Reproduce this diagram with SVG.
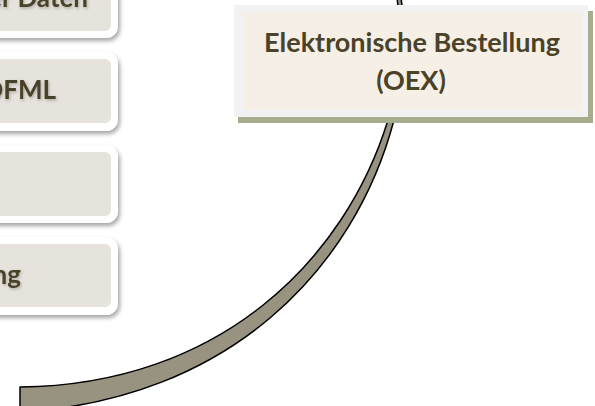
<svg xmlns="http://www.w3.org/2000/svg" width="595" height="406" viewBox="0 0 595 406">
<defs>
<filter id="sh" x="-20%" y="-20%" width="140%" height="150%">
<feDropShadow dx="2" dy="3" stdDeviation="2" flood-color="#000" flood-opacity="0.35"/>
</filter>
<filter id="tsh" x="-10%" y="-30%" width="120%" height="160%">
<feDropShadow dx="1" dy="1.5" stdDeviation="1.5" flood-color="#000" flood-opacity="0.25"/>
</filter>
</defs>
<style>
.outer{fill:#ffffff;filter:url(#sh)}
.inner{fill:#e6e2dc}
.lbl{font-family:Lato,"Open Sans",sans-serif;font-weight:bold;fill:#4a4329}
.side{font-size:26px;text-anchor:end;filter:url(#tsh)}
.main{font-size:27px;text-anchor:middle}
.band{fill:#989280;stroke:#000;stroke-width:1.5;stroke-linejoin:round}
</style>
<rect width="595" height="406" fill="#ffffff"/>
<g id="connectors">
<path class="band" d="M20,387 C220,385 345,260 388,120 C398.75,85 402,30 397,-2 L401,-2 C406,30 405,85 394,120 C355,268 230,400 20,412 Z"/>
</g>
<g id="node1">
<rect class="outer" x="-20" y="-40" width="138" height="78" rx="12"/>
<rect class="inner" x="-20" y="-33" width="131" height="64" rx="6"/>
<text class="lbl side" x="88" y="7">er Daten</text>
</g>
<g id="node2">
<rect class="outer" x="-20" y="52" width="138" height="79" rx="12"/>
<rect class="inner" x="-20" y="59" width="131" height="64" rx="6"/>
<text class="lbl side" x="56" y="99">OFML</text>
</g>
<g id="node3">
<rect class="outer" x="-20" y="145" width="138" height="78" rx="12"/>
<rect class="inner" x="-20" y="152" width="131" height="64" rx="6"/>
</g>
<g id="node4">
<rect class="outer" x="-20" y="237" width="138" height="78" rx="12"/>
<rect class="inner" x="-20" y="244" width="131" height="63" rx="6"/>
<text class="lbl side" x="21" y="284">ng</text>
</g>
<g id="oex">
<rect x="238" y="11" width="355" height="112" fill="#a5ad8d"/>
<rect x="234" y="5" width="354" height="112" fill="#f2f2f2"/>
<rect x="243" y="13" width="339" height="97" fill="#f6efe5"/>
<text class="lbl main" x="412" y="52">Elektronische Bestellung</text>
<text class="lbl main" x="411" y="90">(OEX)</text>
</g>
</svg>
